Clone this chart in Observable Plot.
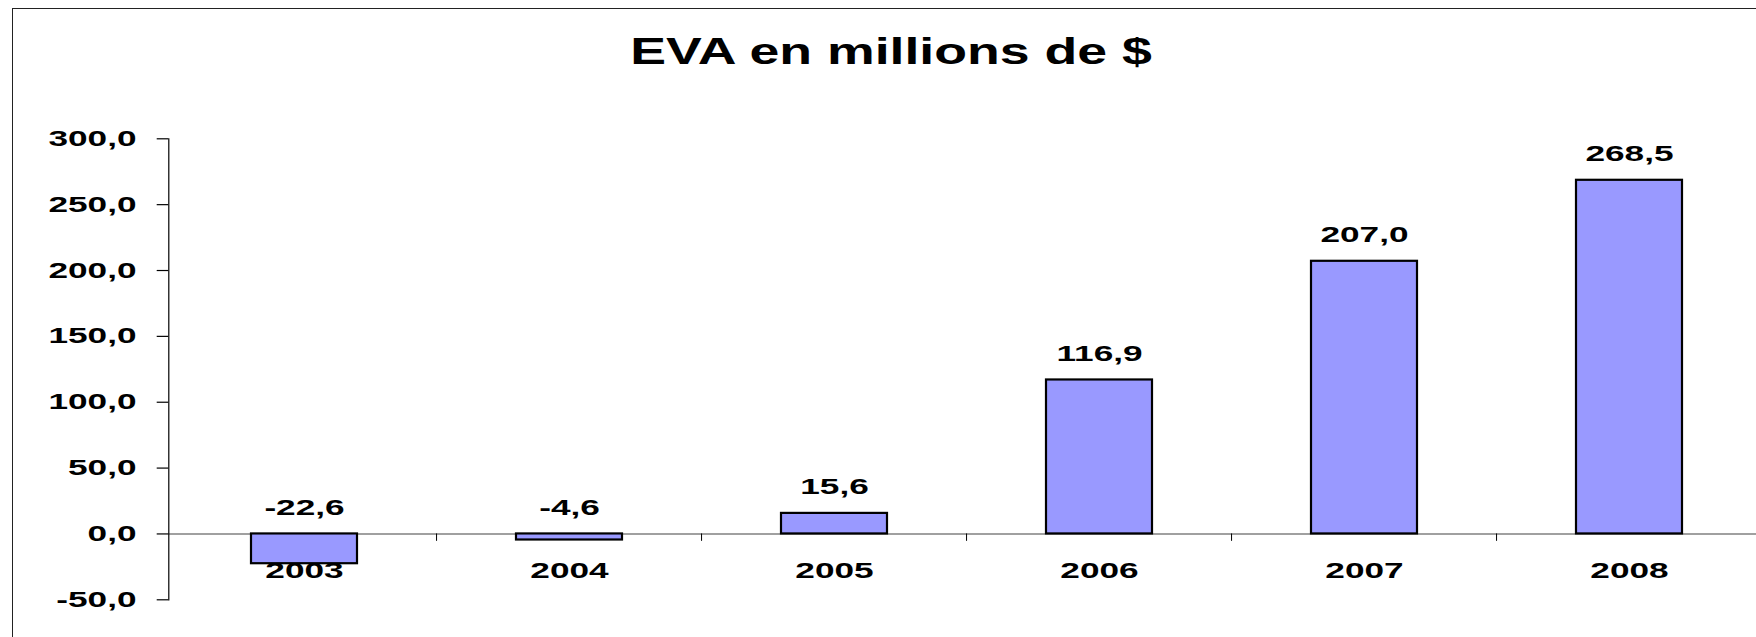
<!DOCTYPE html>
<html><head><meta charset="utf-8">
<script src="https://cdn.jsdelivr.net/npm/d3@7"></script>
<script src="https://cdn.jsdelivr.net/npm/@observablehq/plot@0.6"></script>
<style>
html,body{margin:0;padding:0;background:#fff;overflow:hidden;width:1756px;height:637px;}
#frame{position:absolute;left:12px;top:8px;width:1800px;height:700px;border-left:1px solid #222;border-top:1px solid #222;pointer-events:none;z-index:2}
#title{position:absolute;left:0;top:33.6px;width:1782px;text-align:center;font:bold 36px "Liberation Sans",Arial,sans-serif;line-height:36px;color:#000;z-index:3}
#title span{display:inline-block;transform:scaleX(1.49);transform-origin:center}
#chart{position:absolute;left:0;top:90px;z-index:1}
</style></head><body>
<div id="title"><span></span></div>
<div id="chart"></div>
<div id="frame"></div>
<script>
const titleText = "EVA en millions de $";
const years = ["2003", "2004", "2005", "2006", "2007", "2008"];
const values = [-22.6, -4.6, 15.6, 116.9, 207.0, 268.5];
const yTicks = [-50, 0, 50, 100, 150, 200, 250, 300];

document.querySelector("#title span").textContent = titleText;

const data = years.map((year, i) => ({year, value: values[i]}));
const fmt = v => v.toFixed(1).replace(".", ",");

const W = 1756, H = 547;
const xRange = [168.3, 1763.7];
const step = (xRange[1] - xRange[0]) / years.length;
const font = "'Liberation Sans', Arial, sans-serif";

const plot = Plot.plot({
  width: W, height: H,
  marginLeft: 168.3, marginRight: 0, marginTop: 48.3, marginBottom: 37.7,
  style: {fontFamily: font, fontSize: "22px", fontWeight: "bold", background: "transparent", overflow: "visible", color: "#000"},
  x: {type: "band", domain: years, range: xRange, paddingInner: 0.6, paddingOuter: 0.3, axis: null},
  y: {domain: [-50, 300], axis: null},
  marks: [
    Plot.ruleY([0], {stroke: "#808080", strokeWidth: 1.5}),
    Plot.ruleX(years.slice(1), {x: d => d, y1: 0, y2: 0, insetBottom: -7.4, dx: -step / 2, stroke: "#000", strokeWidth: 1}),
    Plot.barY(data, {x: "year", y: "value", fill: "#9999FF", stroke: "#000", strokeWidth: 2.2}),
    Plot.frame({anchor: "left", stroke: "#000", strokeWidth: 1.2}),
    Plot.axisY(yTicks, {label: null, tickSize: 11.6, tickPadding: 20.7, tickFormat: fmt, stroke: "#000", strokeWidth: 1.2, fill: "#000", fontSize: 22, fontWeight: "bold"}),
    Plot.text(data, {x: "year", y: d => Math.max(d.value, 0), text: d => fmt(d.value), dy: -26, fill: "#000", fontSize: 22, fontWeight: "bold"}),
    Plot.text(years, {x: d => d, y: 0, text: d => d, dy: 37, fill: "#000", fontSize: 22, fontWeight: "bold"})
  ]
});

// horizontally widen every text, as in the reference (stretched glyphs)
const S = 1.6;
plot.querySelectorAll("text").forEach(t => {
  let tr = t.getAttribute("transform") || "";
  const xa = t.getAttribute("x");
  if (xa !== null && !/em$/.test(xa)) {
    const x = parseFloat(xa) || 0;
    t.removeAttribute("x");
    tr += ` translate(${x},0)`;
  }
  t.setAttribute("transform", `${tr} scale(${S},1)`);
});

document.getElementById("chart").appendChild(plot);
</script>
</body></html>
